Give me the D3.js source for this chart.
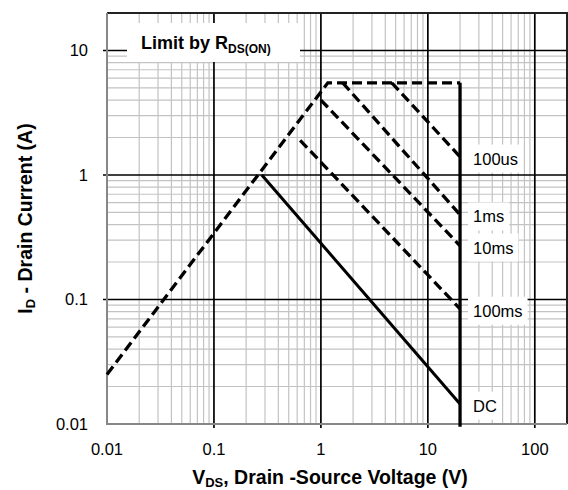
<!DOCTYPE html>
<html>
<head>
<meta charset="utf-8">
<script src="https://cdn.jsdelivr.net/npm/d3@7"></script>
<style>
  body { margin: 0; background: #fff; }
  svg { display: block; font-family: "Liberation Sans", Arial, sans-serif; }
</style>
</head>
<body>
<div id="chart"></div>
<script>
// SOA curves (V, A)
var rdsLimit = [[0.01, 0.025], [1.16, 5.5], [20, 5.5]];
var pulse100us = [[4.6, 5.5], [20, 1.4]];
var pulse1ms = [[1.6, 5.5], [20, 0.48]];
var pulse10ms = [[1.0, 4.0], [20, 0.27]];
var pulse100ms = [[0.64, 1.9], [20, 0.084]];
var dcLine = [[0.28, 1], [20, 0.0145]];
var vdsMax = [[20, 5.5], [20, 0.0095]];

var curveNames = ["100us", "1ms", "10ms", "100ms", "DC"];
var curveData = [pulse100us, pulse1ms, pulse10ms, pulse100ms, dcLine];

var xTicks = [0.01, 0.1, 1, 10, 100];
var xTickLabels = ["0.01", "0.1", "1", "10", "100"];
var yTicks = [0.01, 0.1, 1, 10];
var yTickLabels = ["0.01", "0.1", "1", "10"];
var xDomain = [0.01, 200];
var yDomain = [0.01, 20];

var W = 568, H = 490;
// note: "top" is taken by window.top, so use pL/pR/pT/pB
var pL = 107, pR = 567, pT = 13, pB = 424;

var svg = d3.select("#chart").append("svg")
    .attr("width", W).attr("height", H);

var x = d3.scaleLog().domain(xDomain).range([pL, pR]);
var y = d3.scaleLog().domain(yDomain).range([pB, pT]);

// minor + major grid positions
var minorX = [], minorY = [];
for (var d = 0.01; d <= 100; d *= 10) {
    for (var k = 2; k <= 9; k++) {
        var v = +(d * k).toPrecision(3);
        if (v <= xDomain[1]) minorX.push(v);
        if (v <= yDomain[1]) minorY.push(v);
    }
}

var grid = svg.append("g");
grid.selectAll(".mx").data(minorX).enter().append("line")
    .attr("x1", function(d) { return x(d); }).attr("x2", function(d) { return x(d); })
    .attr("y1", pT).attr("y2", pB)
    .attr("stroke", "#c3c3c3").attr("stroke-width", 1.2);
grid.selectAll(".my").data(minorY).enter().append("line")
    .attr("y1", function(d) { return y(d); }).attr("y2", function(d) { return y(d); })
    .attr("x1", pL).attr("x2", pR)
    .attr("stroke", "#c3c3c3").attr("stroke-width", 1.2);
grid.selectAll(".Mx").data(xTicks.slice(1)).enter().append("line")
    .attr("x1", function(d) { return x(d); }).attr("x2", function(d) { return x(d); })
    .attr("y1", pT).attr("y2", pB + 4)
    .attr("stroke", "#000").attr("stroke-width", 1.7);
grid.selectAll(".My").data(yTicks.slice(1)).enter().append("line")
    .attr("y1", function(d) { return y(d); }).attr("y2", function(d) { return y(d); })
    .attr("x1", pL - 4).attr("x2", pR)
    .attr("stroke", "#000").attr("stroke-width", 1.7);

// frame: top/right dark, axes gray
svg.append("path")
    .attr("d", "M" + pL + "," + pT + "H" + pR + "V" + pB)
    .attr("fill", "none").attr("stroke", "#222").attr("stroke-width", 2);
svg.append("path")
    .attr("d", "M" + pL + "," + pT + "V" + pB + "H" + pR)
    .attr("fill", "none").attr("stroke", "#878787").attr("stroke-width", 2);

// legend box "Limit by RDS(ON)"
svg.append("rect")
    .attr("x", 127).attr("y", 23).attr("width", 173).attr("height", 39)
    .attr("fill", "#fff");
var lt = svg.append("text")
    .attr("x", 141).attr("y", 49)
    .attr("font-size", 18).attr("font-weight", "bold");
lt.append("tspan").text("Limit by R");
lt.append("tspan").attr("font-size", 12).attr("dy", 4).text("DS(ON)");

var line = d3.line()
    .x(function(d) { return x(d[0]); })
    .y(function(d) { return y(d[1]); });

// dashed pulse curves
svg.append("path").datum(rdsLimit).attr("d", line)
    .attr("fill", "none").attr("stroke", "#000").attr("stroke-width", 3.3)
    .attr("stroke-dasharray", "10,5");
curveData.slice(0, 4).forEach(function(c) {
    svg.append("path").datum(c).attr("d", line)
        .attr("fill", "none").attr("stroke", "#000").attr("stroke-width", 3.3)
        .attr("stroke-dasharray", "10,5");
});
svg.append("path").datum(dcLine).attr("d", line)
    .attr("fill", "none").attr("stroke", "#000").attr("stroke-width", 3);
svg.append("path").datum(vdsMax).attr("d", line)
    .attr("fill", "none").attr("stroke", "#000").attr("stroke-width", 3.3);

// curve labels with white boxes
curveNames.forEach(function(name, i) {
    var end = curveData[i][curveData[i].length - 1];
    var g = svg.append("g");
    var t = g.append("text")
        .attr("x", x(end[0]) + 13).attr("y", y(end[1]) + 2)
        .attr("dy", "0.35em")
        .attr("font-size", 16.5)
        .text(name);
    var bb = t.node().getBBox();
    g.insert("rect", "text")
        .attr("x", bb.x - 5).attr("y", bb.y - 5)
        .attr("width", bb.width + 10).attr("height", bb.height + 10)
        .attr("fill", "#fff");
});

// tick labels
svg.selectAll(".xl").data(xTicks).enter().append("text")
    .attr("x", function(d) { return x(d); }).attr("y", 455)
    .attr("text-anchor", "middle").attr("font-size", 16.5)
    .text(function(d, i) { return xTickLabels[i]; });
svg.selectAll(".yl").data(yTicks).enter().append("text")
    .attr("x", 88).attr("y", function(d) { return y(d); })
    .attr("dy", "0.35em")
    .attr("text-anchor", "end").attr("font-size", 16.5)
    .text(function(d, i) { return yTickLabels[i]; });

// axis titles
var xt = svg.append("text")
    .attr("x", 330).attr("y", 484)
    .attr("text-anchor", "middle").attr("font-size", 19.5).attr("font-weight", "bold");
xt.append("tspan").text("V");
xt.append("tspan").attr("font-size", 13).attr("dy", 3).text("DS");
xt.append("tspan").attr("dy", -3).text(", Drain -Source Voltage (V)");

var yt = svg.append("text")
    .attr("transform", "translate(32," + ((pT + pB) / 2) + ") rotate(-90)")
    .attr("text-anchor", "middle").attr("font-size", 19.5).attr("font-weight", "bold");
yt.append("tspan").text("I");
yt.append("tspan").attr("font-size", 13).attr("dy", 3).text("D");
yt.append("tspan").attr("dy", -3).text(" - Drain Current (A)");
</script>
</body>
</html>
